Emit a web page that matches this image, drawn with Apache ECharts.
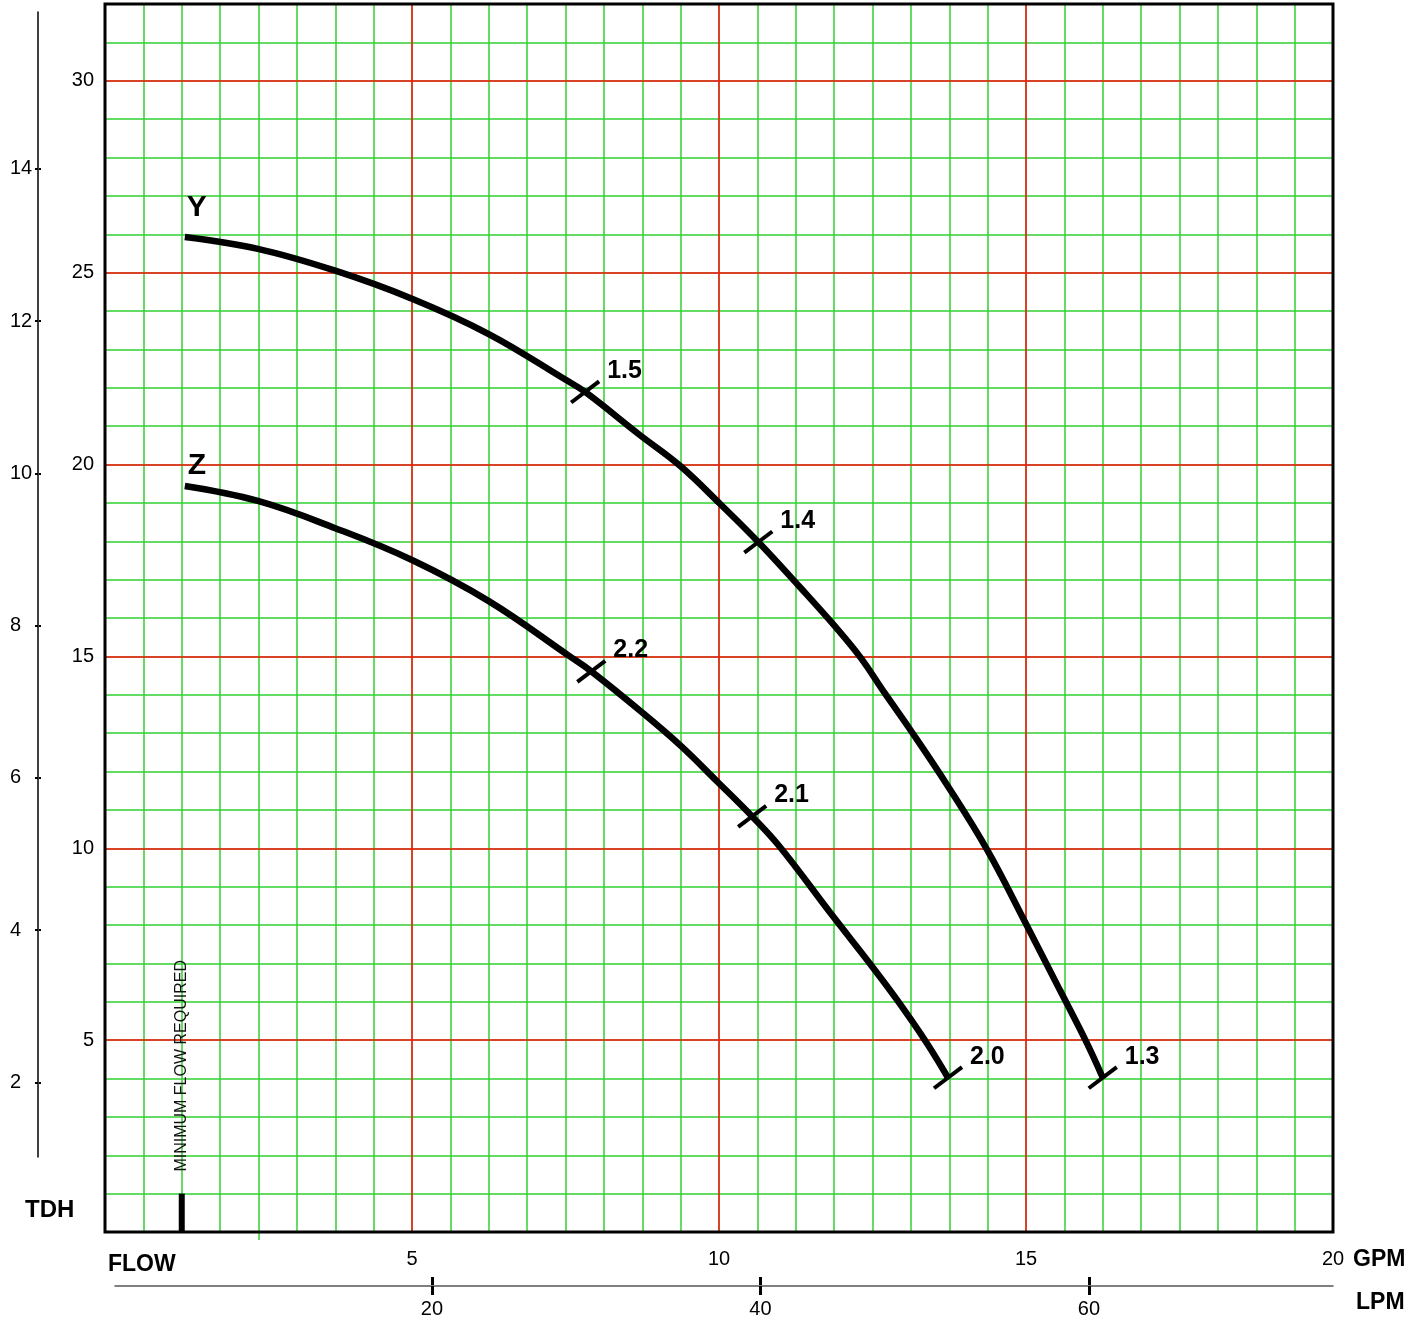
<!DOCTYPE html>
<html>
<head>
<meta charset="utf-8">
<script src="https://cdn.jsdelivr.net/npm/echarts@6/dist/echarts.min.js"></script>
<style>
    html, body { margin: 0; padding: 0; background: #fff; }
    #main { width: 1424px; height: 1323px; }
</style>
</head>
<body>
<div id="main"></div>
<script>
    // pump curves, [flow GPM, head ft]
    var curveY = [[1.30, 25.93], [2.49, 25.62], [3.75, 25.05], [5.00, 24.32], [6.25, 23.40], [7.51, 22.20],
        [7.82, 21.89], [8.71, 20.77], [9.37, 19.96], [10.02, 18.97], [10.64, 17.98], [11.32, 16.80],
        [11.89, 15.78], [12.30, 14.98], [12.70, 14.04], [13.11, 13.10], [13.71, 11.66], [14.37, 9.95],
        [14.98, 8.09], [15.55, 6.31], [15.98, 4.96], [16.25, 4.02]];
    var curveZ = [[1.30, 19.44], [2.49, 19.05], [3.75, 18.34], [5.00, 17.51], [6.25, 16.44], [7.57, 15.00],
        [7.92, 14.61], [8.71, 13.59], [9.37, 12.68], [9.97, 11.74], [10.54, 10.83], [10.99, 10.04],
        [11.86, 8.22], [12.46, 6.99], [12.90, 6.05], [13.37, 4.96], [13.73, 4.02]];
    // marks on the curves, [GPM, ft, label]
    var marksY = [[7.82, 21.89, '1.5'], [10.64, 17.98, '1.4'], [16.25, 4.02, '1.3']];
    var marksZ = [[7.92, 14.61, '2.2'], [10.54, 10.83, '2.1'], [13.73, 4.02, '2.0']];
    // tick labels
    var gpmLabels = [5, 10, 15, 20];
    var feetLabels = [5, 10, 15, 20, 25, 30];
    var lpmLabels = [20, 40, 60];
    var sideLabels = [2, 4, 6, 8, 10, 12, 14];
    // minimum flow
    var minFlowGpm = 1.25;
    var minFlowBar = [[minFlowGpm, 0], [minFlowGpm, 1]];
    var minFlowText = 'MINIMUM FLOW REQUIRED';

    var FONT = '"Liberation Sans", Arial, sans-serif';
    var GREEN = '#30d030';
    var RED = '#ff1010';

    function curveSeries(name, data, marks, nameOffset) {
        return [{
            type: 'line', data: data, smooth: 0.4, symbol: 'none', silent: true, z: 3,
            lineStyle: { color: '#000', width: 6.5 }
        }, {
            type: 'scatter', silent: true, z: 4,
            data: marks.map(function (m) { return [m[0], m[1]]; }),
            symbol: 'rect', symbolSize: [35, 4], symbolRotate: 37,
            itemStyle: { color: '#000', opacity: 1 }
        }, {
            type: 'scatter', silent: true, z: 4,
            data: marks.map(function (m) { return { value: [m[0], m[1]], name: m[2] }; }),
            symbolSize: 1, itemStyle: { color: 'transparent', opacity: 1 },
            label: {
                show: true, position: 'inside', align: 'left', verticalAlign: 'middle',
                offset: [22, -21], formatter: '{b}', textBorderWidth: 0, opacity: 1,
                fontFamily: FONT, fontWeight: 'bold', fontSize: 25, color: '#000'
            }
        }, {
            type: 'scatter', silent: true, z: 4,
            data: [{ value: data[0], name: name }],
            symbolSize: 1, itemStyle: { color: 'transparent', opacity: 1 },
            label: {
                show: true, position: 'inside', align: 'center', verticalAlign: 'middle',
                offset: nameOffset, formatter: '{b}', textBorderWidth: 0, opacity: 1,
                fontFamily: FONT, fontWeight: 'bold', fontSize: 30, color: '#000'
            }
        }];
    }

    var labelFont = { fontFamily: FONT, fontSize: 20, color: '#000' };
    var noAxis = { axisLine: { show: false }, axisTick: { show: false }, axisLabel: { show: false } };

    var option = {
        animation: false,
        backgroundColor: '#fff',
        grid: [
            { left: 105, right: 91, top: 4, bottom: 91, show: true, backgroundColor: 'transparent',
              borderColor: '#000', borderWidth: 3, z: 1, outerBoundsMode: 'none' },
            { left: 115, right: 91, top: 1285, height: 1, outerBoundsMode: 'none' },
            { left: 38, width: 1, top: 12, bottom: 166, outerBoundsMode: 'none' }
        ],
        xAxis: [Object.assign({}, noAxis, {
            // green grid, every 1/8 of 5 GPM
            gridIndex: 0, type: 'value', min: 0, max: 20, interval: 0.625, z: 0,
            axisLabel: Object.assign({ customValues: gpmLabels, margin: 17 }, labelFont),
            splitLine: { show: true, lineStyle: { color: GREEN, width: 1.5 } }
        }), Object.assign({}, noAxis, {
            // red grid every 5 GPM
            gridIndex: 0, type: 'value', min: 0, max: 20, interval: 5, z: 0.5,
            splitLine: { show: true, lineStyle: { color: RED, width: 1.5 } }
        }), Object.assign({}, noAxis, {
            gridIndex: 0, type: 'value', min: 0, max: 20, position: 'bottom',
            splitLine: { show: false },
            axisTick: { show: true, customValues: [2.5], length: 8, lineStyle: { color: GREEN, width: 1.5 } }
        }), {
            gridIndex: 1, type: 'value', min: 0.7, max: 74.86, position: 'bottom',
            axisLine: { show: true, lineStyle: { color: '#555', width: 1.5 } },
            axisTick: { show: true, customValues: lpmLabels, length: 9, lineStyle: { color: '#000', width: 3 } },
            axisLabel: Object.assign({ customValues: lpmLabels, margin: 13 }, labelFont),
            splitLine: { show: false }
        }, Object.assign({}, noAxis, {
            gridIndex: 1, type: 'value', min: 0.7, max: 74.86, position: 'top',
            splitLine: { show: false },
            axisTick: { show: true, customValues: lpmLabels, length: 8, lineStyle: { color: '#000', width: 3 } }
        }), {
            gridIndex: 2, type: 'value', show: false
        }],
        yAxis: [Object.assign({}, noAxis, {
            gridIndex: 0, type: 'value', min: 0, max: 32, interval: 1, z: 0,
            axisLabel: Object.assign({ customValues: feetLabels, margin: 11 }, labelFont),
            splitLine: { show: true, lineStyle: { color: GREEN, width: 1.5 } }
        }), Object.assign({}, noAxis, {
            gridIndex: 0, type: 'value', min: 0, max: 32, interval: 5, z: 0.5,
            splitLine: { show: true, lineStyle: { color: RED, width: 1.5 } }
        }), {
            gridIndex: 1, type: 'value', show: false
        }, {
            gridIndex: 2, type: 'value', min: 1.02, max: 16.06, position: 'left',
            axisLine: { show: true, lineStyle: { color: '#000', width: 1.5 } },
            axisTick: { show: true, customValues: sideLabels, length: 3, lineStyle: { color: '#000', width: 2 } },
            axisLabel: Object.assign({ customValues: sideLabels, margin: 28, align: 'left' }, labelFont),
            splitLine: { show: false }
        }, Object.assign({}, noAxis, {
            gridIndex: 2, type: 'value', min: 1.02, max: 16.06, position: 'right',
            splitLine: { show: false },
            axisTick: { show: true, customValues: sideLabels, length: 2, lineStyle: { color: '#000', width: 2 } }
        })],
        graphic: [
            { type: 'text', x: 25, y: 1210, style: { text: 'TDH', font: 'bold 24px ' + FONT, fill: '#000', align: 'left', verticalAlign: 'middle' } },
            { type: 'text', x: 108, y: 1265, style: { text: 'FLOW', font: 'bold 23px ' + FONT, fill: '#000', align: 'left', verticalAlign: 'middle' } },
            { type: 'text', x: 1353, y: 1260, style: { text: 'GPM', font: 'bold 23px ' + FONT, fill: '#000', align: 'left', verticalAlign: 'middle' } },
            { type: 'text', x: 1356, y: 1303, style: { text: 'LPM', font: 'bold 23px ' + FONT, fill: '#000', align: 'left', verticalAlign: 'middle' } }
        ],
        series: [].concat(
            curveSeries('Y', curveY, marksY, [12, -29]),
            curveSeries('Z', curveZ, marksZ, [12, -20]),
            [{
                type: 'line', data: minFlowBar, symbol: 'none', silent: true, z: 3,
                lineStyle: { color: '#000', width: 6 }
            }, {
                type: 'scatter', silent: true, z: 4,
                data: [{ value: [minFlowGpm, 4.33], name: minFlowText }],
                symbolSize: 1, itemStyle: { color: 'transparent', opacity: 1 },
                label: {
                    show: true, position: 'inside', rotate: 90, formatter: '{b}', textBorderWidth: 0,
                    fontFamily: FONT, fontSize: 16, color: '#111', opacity: 1
                }
            }]
        )
    };

    var chart = echarts.init(document.getElementById('main'));
    chart.setOption(option);
</script>
</body>
</html>
